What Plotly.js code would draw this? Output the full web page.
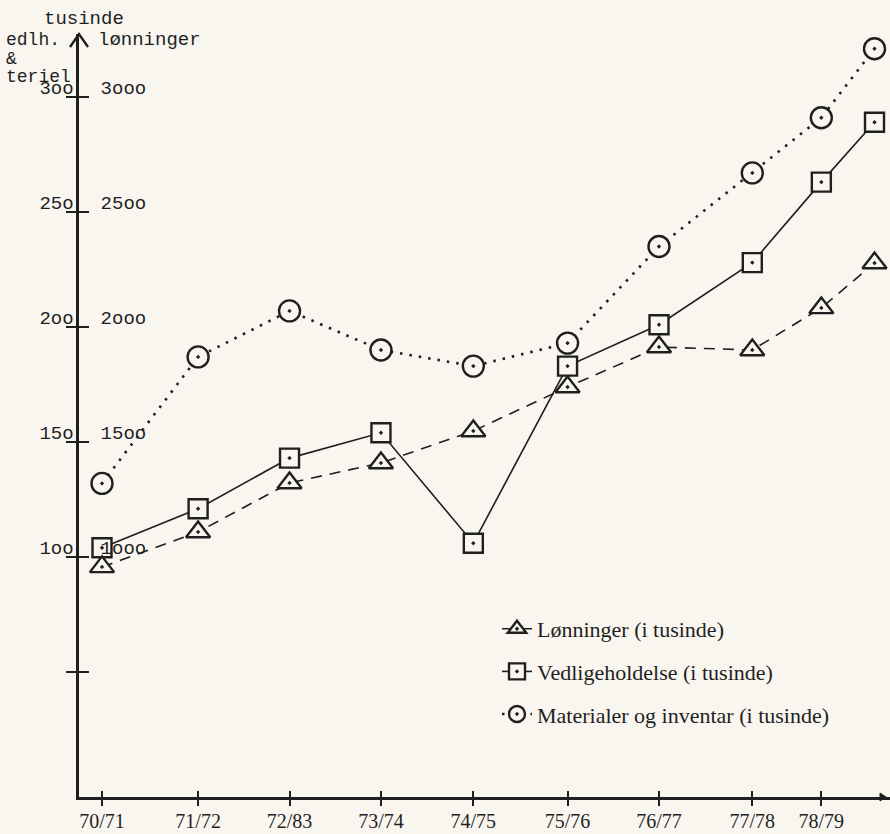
<!DOCTYPE html>
<html>
<head>
<meta charset="utf-8">
<script src="https://cdn.plot.ly/plotly-3.0.1.min.js"></script>
<style>html,body{margin:0;padding:0;background:#f9f6ef;}#chart{width:890px;height:834px;}</style>
</head>
<body>
<div id="chart"></div>
<script>
// Periods (x-axis labels) and the slot where each year's point was drawn
const periods = ['70/71','71/72','72/83','73/74','74/75','75/76','76/77','77/78','78/79'];
const periodSlot = [0, 1.03, 2.01, 2.99, 3.98, 4.99, 5.97, 6.97, 7.71, 8.28];

// Lønninger (right scale, tusinde)
const lonninger = [957, 1109, 1322, 1409, 1548, 1739, 1913, 1900, 2083, 2278];
// Vedligeholdelse (left scale, tusinde)
const vedligeholdelse = [104, 121, 143, 154, 106, 183, 201, 228, 263, 289];
// Materialer og inventar (left scale, tusinde)
const materialer = [132, 187, 207, 190, 183, 193, 235, 267, 291, 321];

// Axis tick labels (typewritten)
const leftTickVals = [50, 100, 150, 200, 250, 300];
const leftTickText = ['', '1oo', '15o', '2oo', '25o', '3oo'];
const rightTickVals = [500, 1000, 1500, 2000, 2500, 3000];
const rightTickText = ['', '1ooo', '15oo', '2ooo', '25oo', '3ooo'];

const INK = '#1f1f1f';
const BG = '#f9f6ef';
const yRange = [-4.35, 327.4];
const xRange = [-0.2465, 8.446];

const traces = [
  {
    name: 'Lønninger (i tusinde)', x: periodSlot, y: lonninger, xaxis: 'x', yaxis: 'y2',
    mode: 'lines+markers', legendgroup: 'a',
    line: {color: INK, width: 1.6, dash: '11px,8px'},
    marker: {symbol: 'triangle-up-dot', size: 21, color: BG, line: {color: INK, width: 2.4}}
  },
  {
    name: 'Vedligeholdelse (i tusinde)', x: periodSlot, y: vedligeholdelse, xaxis: 'x', yaxis: 'y',
    mode: 'lines+markers', legendgroup: 'b',
    line: {color: INK, width: 1.6},
    marker: {symbol: 'square-dot', size: 19, color: BG, line: {color: INK, width: 2.4}}
  },
  {
    name: 'Materialer og inventar (i tusinde)', x: periodSlot, y: materialer, xaxis: 'x2', yaxis: 'y',
    mode: 'lines+markers', legendgroup: 'c',
    line: {color: INK, width: 2.6, dash: '2.5px,7px'},
    marker: {symbol: 'circle-dot', size: 21, color: BG, line: {color: INK, width: 2.4}}
  }
];

const mono = {family: '"Liberation Mono", "DejaVu Sans Mono", monospace', size: 19, color: INK};
const monoS = {family: '"Liberation Mono", "DejaVu Sans Mono", monospace', size: 18, color: INK};
const serif = {family: '"Liberation Serif", "DejaVu Serif", serif', size: 20, color: INK};
const serifL = {family: '"Liberation Serif", "DejaVu Serif", serif', size: 22, color: INK};

function px2paperX(p) { return (p - 79) / 811; }
function px2paperY(q) { return (797 - q) / 763; }

const layout = {
  width: 890, height: 834,
  paper_bgcolor: BG, plot_bgcolor: BG,
  margin: {l: 79, r: 0, t: 34, b: 37},
  showlegend: true,
  legend: {
    x: px2paperX(497), xanchor: 'left', y: px2paperY(608), yanchor: 'top',
    font: serifL, bgcolor: 'rgba(0,0,0,0)', tracegroupgap: 11, traceorder: 'grouped'
  },
  xaxis: {
    range: xRange, showgrid: false, zeroline: false,
    showline: true, linecolor: INK, linewidth: 2.6,
    tickmode: 'array', tickvals: periodSlot.slice(0, periods.length), ticktext: periods,
    ticks: 'outside', ticklen: 6, tickwidth: 2, tickcolor: INK,
    ticklabelstandoff: -2,
    tickfont: serif
  },
  xaxis2: {
    range: xRange, overlaying: 'x', anchor: 'y', side: 'bottom',
    showgrid: false, zeroline: false, showline: false, showticklabels: false,
    tickmode: 'array', tickvals: periodSlot.slice(0, periods.length),
    ticks: 'inside', ticklen: 6, tickwidth: 2, tickcolor: INK
  },
  yaxis: {
    range: yRange, showgrid: false, zeroline: false,
    showline: true, linecolor: INK, linewidth: 2.6,
    tickmode: 'array', tickvals: leftTickVals, ticktext: leftTickText,
    ticks: 'inside', ticklen: 10, tickwidth: 2.4, tickcolor: INK,
    ticklabelstandoff: -1, ticklabelshift: -10,
    tickfont: mono
  },
  yaxis2: {
    range: yRange.map(v => v * 10), overlaying: 'y', side: 'left', anchor: 'x',
    showgrid: false, zeroline: false, showline: false,
    tickmode: 'array', tickvals: rightTickVals, ticktext: rightTickText,
    ticks: 'outside', ticklen: 12, tickwidth: 2.4, tickcolor: INK,
    ticklabelstandoff: -84, ticklabelshift: -10,
    tickfont: mono
  },
  shapes: [
    {type: 'path', xref: 'paper', yref: 'paper', xsizemode: 'pixel', ysizemode: 'pixel',
     xanchor: 0, yanchor: 1, path: 'M -9 -13 L 0 0 L 9 -13', line: {color: INK, width: 2.4}},
    {type: 'path', xref: 'paper', yref: 'paper', xsizemode: 'pixel', ysizemode: 'pixel',
     xanchor: 1, yanchor: 0, path: 'M -10 -4 L -4 0 L -10 4 Z', fillcolor: INK, line: {color: INK, width: 1}}
  ],
  annotations: [
    {text: 'tusinde', xref: 'paper', yref: 'paper', x: px2paperX(42), y: px2paperY(19), xanchor: 'left', yanchor: 'middle', showarrow: false, font: mono},
    {text: 'edlh.', xref: 'paper', yref: 'paper', x: px2paperX(4), y: px2paperY(40), xanchor: 'left', yanchor: 'middle', showarrow: false, font: monoS},
    {text: 'lønninger', xref: 'paper', yref: 'paper', x: px2paperX(96), y: px2paperY(40), xanchor: 'left', yanchor: 'middle', showarrow: false, font: mono},
    {text: '&amp;', xref: 'paper', yref: 'paper', x: px2paperX(4), y: px2paperY(59), xanchor: 'left', yanchor: 'middle', showarrow: false, font: monoS},
    {text: 'teriel', xref: 'paper', yref: 'paper', x: px2paperX(4), y: px2paperY(77), xanchor: 'left', yanchor: 'middle', showarrow: false, font: monoS}
  ]
};

Plotly.newPlot('chart', traces, layout, {displayModeBar: false, staticPlot: true});
</script>
</body>
</html>
